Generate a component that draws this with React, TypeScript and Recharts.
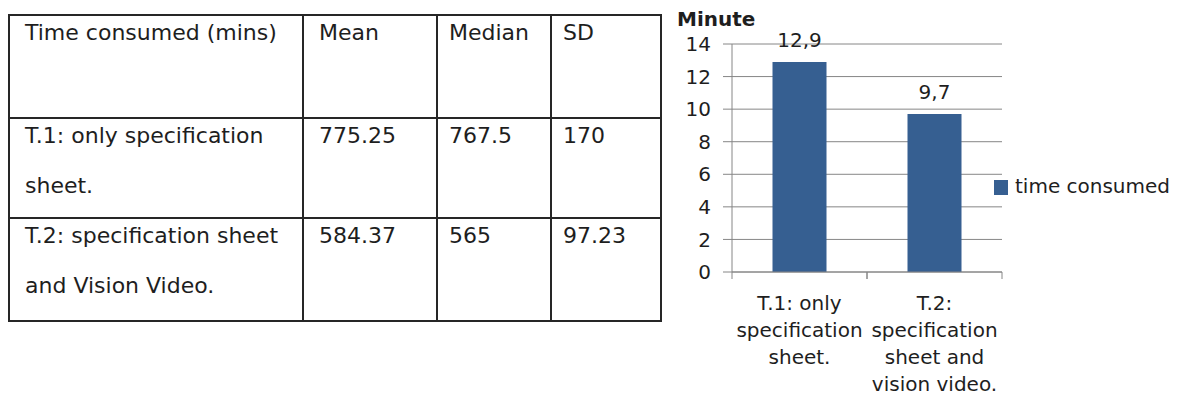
import React from "react";
import { BarChart, Bar, XAxis, YAxis, CartesianGrid, Legend, LabelList } from "recharts";

// ---- summary table ----
const tableHeaders = ["Time consumed (mins)", "Mean", "Median", "SD"];
const tableRowLabels = [
  ["T.1: only specification", "sheet."],
  ["T.2: specification sheet", "and Vision Video."],
];
const meanValues = ["775.25", "584.37"];
const medianValues = ["767.5", "565"];
const sdValues = ["170", "97.23"];

// ---- bar chart ----
const categories = ["T.1: only specification sheet.", "T.2: specification sheet and vision video."];
const timeConsumed = [12.9, 9.7];
const categoryTickLines = [
  ["T.1: only", "specification", "sheet."],
  ["T.2:", "specification", "sheet and", "vision video."],
];
const yTicks = [0, 2, 4, 6, 8, 10, 12, 14];
const seriesName = "time consumed";
const yTitle = "Minute";

const chartData = categories.map((c, i) => ({ category: c, time: timeConsumed[i] }));

const FONT = "'DejaVu Sans', sans-serif";
const TEXT = "#1e1e1e";
const GRID = "#868686";
const BAR = "#365F91";
const BORDER = "#262626";

function CategoryTick(props: any) {
  const { x, y, payload } = props;
  const half = payload?.offset ?? 0;
  const idx = categories.indexOf(payload?.value);
  const lines = categoryTickLines[idx] ?? [String(payload?.value)];
  return (
    <g>
      <line x1={x - half} y1={y} x2={x - half} y2={y + 7} stroke={GRID} />
      <line x1={x + half} y1={y} x2={x + half} y2={y + 7} stroke={GRID} />
      <text x={x} y={y + 38} textAnchor="middle" fontSize={20} fill={TEXT} fontFamily={FONT}>
        {lines.map((l, i) => (
          <tspan key={i} x={x} dy={i === 0 ? 0 : 27}>
            {l}
          </tspan>
        ))}
      </text>
    </g>
  );
}

function LegendContent(props: any) {
  const items = props.payload ?? [];
  return (
    <div style={{ fontFamily: FONT }}>
      {items.map((it: any, i: number) => (
        <div key={i} style={{ display: "flex", alignItems: "center", height: 20 }}>
          <span style={{ display: "inline-block", width: 14, height: 15, background: it.color, marginRight: 7, marginTop: 3 }} />
          <span style={{ fontSize: 20, lineHeight: "20px", color: TEXT, whiteSpace: "nowrap" }}>{it.value}</span>
        </div>
      ))}
    </div>
  );
}

function TitleLabel(props: any) {
  const vb = props.viewBox ?? { x: 0, y: 0 };
  return (
    <text x={vb.x + 17} y={vb.y - 18} fontSize={20} fontWeight="bold" fill={TEXT} fontFamily={FONT}>
      {yTitle}
    </text>
  );
}

const cellStyle: React.CSSProperties = {
  border: `2px solid ${BORDER}`,
  verticalAlign: "top",
  padding: "0 0 0 14px",
  fontSize: 22,
  color: TEXT,
  textAlign: "left",
};

const lineStyle: React.CSSProperties = { lineHeight: "50px", marginTop: -8 };

function SummaryTable() {
  const colWidths = [294, 134, 114, 110];
  const rowHeights = [100, 103];
  return (
    <table
      style={{
        position: "absolute",
        left: 8,
        top: 14,
        borderCollapse: "collapse",
        tableLayout: "fixed",
        fontFamily: FONT,
        width: colWidths.reduce((a, b) => a + b, 0),
      }}
    >
      <colgroup>
        {colWidths.map((w, i) => (
          <col key={i} style={{ width: w }} />
        ))}
      </colgroup>
      <tbody>
        <tr style={{ height: 103 }}>
          {tableHeaders.map((h, i) => (
            <td key={i} style={{ ...cellStyle, paddingLeft: i < 2 ? 15 : 11 }}>
              <div style={lineStyle}>{h}</div>
            </td>
          ))}
        </tr>
        {tableRowLabels.map((lab, r) => (
          <tr key={r} style={{ height: rowHeights[r] }}>
            <td style={{ ...cellStyle, paddingLeft: 15 }}>
              <div style={lineStyle}>
                {lab[0]}
                <br />
                {lab[1]}
              </div>
            </td>
            <td style={{ ...cellStyle, paddingLeft: 15 }}>
              <div style={lineStyle}>{meanValues[r]}</div>
            </td>
            <td style={{ ...cellStyle, paddingLeft: 11 }}>
              <div style={lineStyle}>{medianValues[r]}</div>
            </td>
            <td style={{ ...cellStyle, paddingLeft: 11 }}>
              <div style={lineStyle}>{sdValues[r]}</div>
            </td>
          </tr>
        ))}
      </tbody>
    </table>
  );
}

export default function App() {
  return (
    <div style={{ position: "absolute", left: 0, top: 0, width: 1178, height: 398, background: "#fff", overflow: "hidden" }}>
      <SummaryTable />
      <div style={{ position: "absolute", left: 660, top: 0 }}>
        <BarChart
          width={518}
          height={398}
          data={chartData}
          margin={{ top: 44, right: 176, left: 0, bottom: 0 }}
          barCategoryGap="30%"
          style={{ fontFamily: FONT }}
        >
          <CartesianGrid vertical={false} stroke={GRID} />
          <XAxis
            dataKey="category"
            height={126}
            tickLine={false}
            tickSize={0}
            tickMargin={0}
            axisLine={{ stroke: GRID }}
            tick={<CategoryTick />}
            interval={0}
          />
          <YAxis
            width={72}
            domain={[0, 14]}
            ticks={yTicks}
            tickSize={9}
            tickMargin={12}
            tickLine={{ stroke: GRID }}
            axisLine={{ stroke: GRID }}
            tick={{ fontSize: 20, fill: TEXT, fontFamily: FONT }}
            label={{ content: <TitleLabel /> }}
          />
          <Legend
            layout="horizontal"
            align="center"
            verticalAlign="middle"
            wrapperStyle={{ left: 334, top: 176, width: 184 }}
            content={<LegendContent />}
          />
          <Bar dataKey="time" name={seriesName} fill={BAR} isAnimationActive={false}>
            <LabelList
              dataKey="time"
              position="top"
              offset={15}
              fontSize={20}
              fill={TEXT}
              fontFamily={FONT}
              formatter={(v: any) => String(v).replace(".", ",")}
            />
          </Bar>
        </BarChart>
      </div>
    </div>
  );
}
